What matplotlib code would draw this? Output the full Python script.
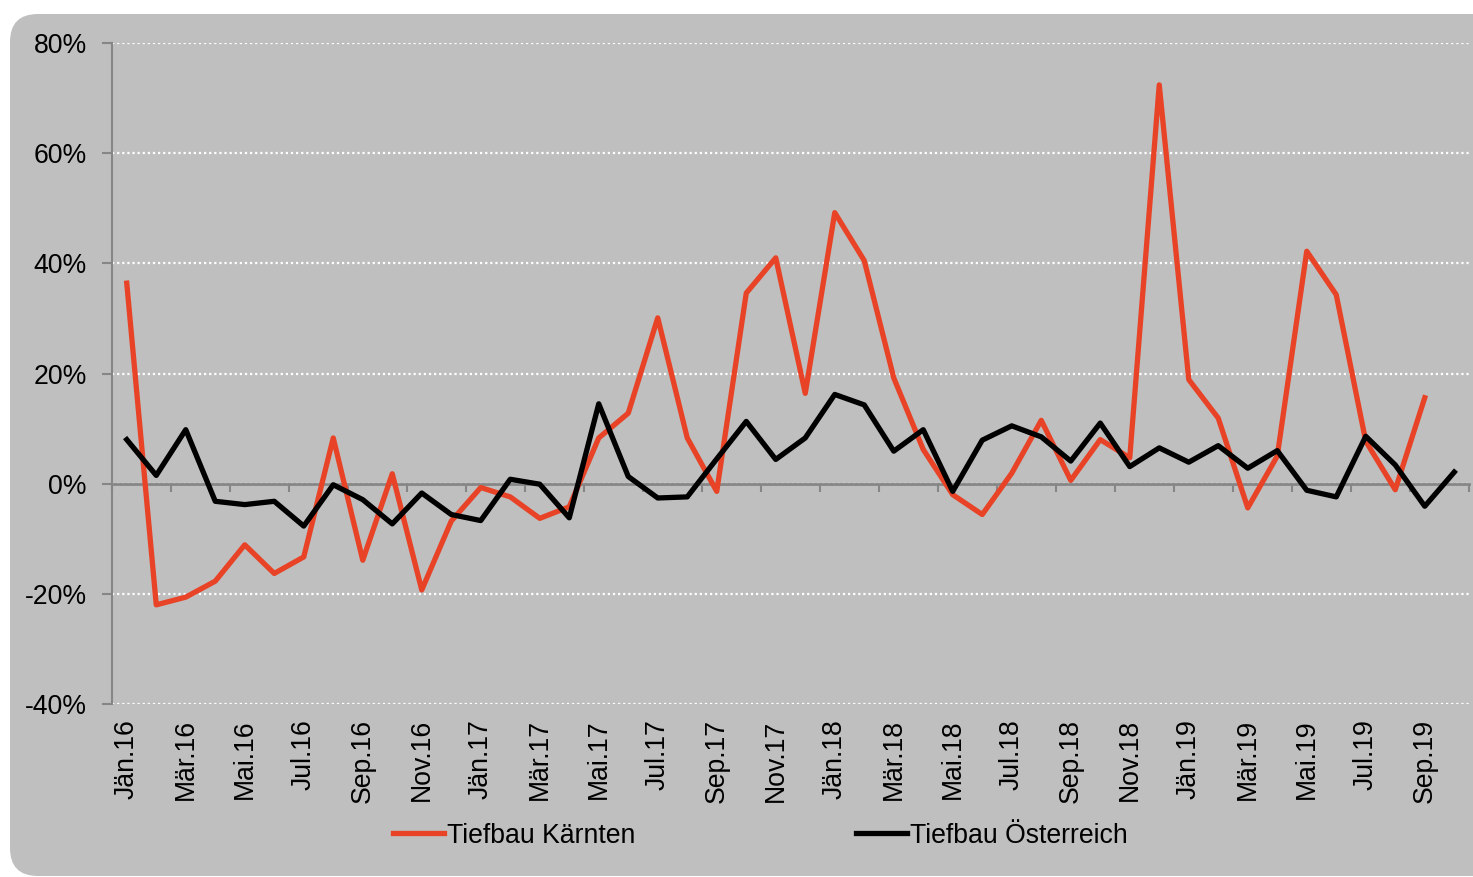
import numpy as np
import matplotlib.pyplot as plt
from matplotlib.patches import FancyBboxPatch

plt.rcParams['font.family'] = ['Liberation Sans', 'DejaVu Sans']

# monthly values, change vs. previous year in %
months = ['Jän.16', 'Feb.16', 'Mär.16', 'Apr.16', 'Mai.16', 'Jun.16', 'Jul.16', 'Aug.16',
          'Sep.16', 'Okt.16', 'Nov.16', 'Dez.16',
          'Jän.17', 'Feb.17', 'Mär.17', 'Apr.17', 'Mai.17', 'Jun.17', 'Jul.17', 'Aug.17',
          'Sep.17', 'Okt.17', 'Nov.17', 'Dez.17',
          'Jän.18', 'Feb.18', 'Mär.18', 'Apr.18', 'Mai.18', 'Jun.18', 'Jul.18', 'Aug.18',
          'Sep.18', 'Okt.18', 'Nov.18', 'Dez.18',
          'Jän.19', 'Feb.19', 'Mär.19', 'Apr.19', 'Mai.19', 'Jun.19', 'Jul.19', 'Aug.19',
          'Sep.19', 'Okt.19']

kaernten = [36.4, -22.0, -20.6, -17.7, -11.1, -16.3, -13.3, 8.3, -13.9, 1.8,
            -19.3, -6.8, -0.7, -2.4, -6.3, -4.2, 8.3, 12.8, 30.1, 8.3,
            -1.4, 34.6, 41.0, 16.4, 49.2, 40.5, 19.2, 6.2, -2.0, -5.6,
            1.9, 11.5, 0.6, 8.0, 4.7, 72.4, 18.9, 11.9, -4.4, 5.0,
            42.2, 34.3, 7.7, -1.1, 15.6]

oesterreich = [8.0, 1.5, 9.8, -3.2, -3.8, -3.2, -7.7, -0.2, -2.9, -7.3,
               -1.7, -5.6, -6.7, 0.8, -0.1, -6.2, 14.5, 1.3, -2.6, -2.4,
               4.5, 11.3, 4.4, 8.3, 16.2, 14.3, 5.9, 9.8, -1.4, 7.9,
               10.5, 8.5, 4.1, 11.0, 3.1, 6.5, 3.9, 6.9, 2.8, 6.0,
               -1.2, -2.4, 8.6, 3.4, -4.1, 2.1]

gray_bg = '#bfbfbf'
axis_gray = '#868686'
fs = 19.2

fig = plt.figure(figsize=(14.73, 8.77), dpi=100)

# rounded gray panel behind everything
bg = fig.add_axes([0, 0, 1, 1])
bg.set_xlim(0, 1473)
bg.set_ylim(877, 0)
bg.axis('off')
bg.add_patch(FancyBboxPatch((10, 14), 1520, 862, boxstyle='round,pad=0,rounding_size=28',
                            fc=gray_bg, ec='none'))

ax = fig.add_axes([112 / 1473, 1 - 704 / 877, (1469 - 112) / 1473, (704 - 43) / 877])
ax.set_facecolor('none')

x = np.arange(len(months))
ax.plot(x[:len(kaernten)], kaernten, color='#e84326', lw=3.8, label='Tiefbau Kärnten', zorder=4)
ax.plot(x, oesterreich, color='black', lw=3.8, label='Tiefbau Österreich', zorder=5)

ax.set_xlim(-0.5, len(months) - 0.5)
ax.set_ylim(-40, 80)
yt = np.arange(-40, 81, 20)
ax.set_yticks(yt, ['%d%%' % v for v in yt])
ax.yaxis.grid(True, color='white', linestyle=(0, (1, 1.3)), lw=1.6)
ax.set_axisbelow(True)

for s in ['top', 'right']:
    ax.spines[s].set_visible(False)
ax.spines['left'].set_color(axis_gray)
ax.spines['left'].set_linewidth(1.5)
ax.spines['bottom'].set_position(('data', 0))
ax.spines['bottom'].set_color(axis_gray)
ax.spines['bottom'].set_linewidth(2)
ax.spines['bottom'].set_zorder(3)

# tick marks on the zero line between every second category
ax.set_xticks(np.arange(-0.5, len(months), 2))
ax.tick_params(axis='x', length=6, width=1.5, color=axis_gray, labelbottom=False)
ax.tick_params(axis='y', length=7, width=1.5, color=axis_gray, pad=11, labelsize=fs)

# category labels at the bottom of the plot
sec = ax.secondary_xaxis(0.0)
sec.set_xticks(x[::2], months[::2], rotation=90)
sec.tick_params(length=0, pad=11, labelsize=fs)
sec.spines['bottom'].set_visible(False)

fig.legend(loc='center', bbox_to_anchor=(0.5163, 0.047), ncol=2, frameon=False,
           handlelength=1.9, handletextpad=0.12, columnspacing=8.3, fontsize=fs)

fig.savefig('out.png', dpi=100)
